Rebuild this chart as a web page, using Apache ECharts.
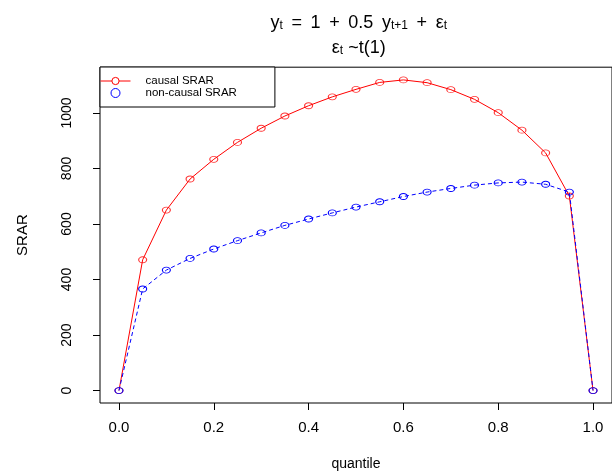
<!DOCTYPE html>
<html><head><meta charset="utf-8">
<script src="https://cdn.jsdelivr.net/npm/echarts@6/dist/echarts.min.js"></script>
<style>html,body{margin:0;padding:0;background:#fff}#c{width:612px;height:476px}</style>
</head><body><div id="c"></div>
<script>
const quantiles = [0, 0.05, 0.1, 0.15, 0.2, 0.25, 0.3, 0.35, 0.4, 0.45, 0.5, 0.55, 0.6, 0.65, 0.7, 0.75, 0.8, 0.85, 0.9, 0.95, 1.0];
const causalSRAR = [0, 471, 650, 762, 833, 894, 945, 989, 1026, 1058, 1085, 1110, 1119, 1109, 1084, 1049, 1001, 938, 856, 701, 0];
const noncausalSRAR = [0, 366, 434, 476, 510, 540, 568, 595, 618, 640, 661, 680, 699, 715, 728, 740, 748, 751, 743, 715, 0];
const xTicks = [0, 0.2, 0.4, 0.6, 0.8, 1.0];
const yTicks = [0, 200, 400, 600, 800, 1000];
const seriesNames = ['causal SRAR', 'non-causal SRAR'];

const FONT = "'Liberation Sans', Arial, sans-serif";
const causalData = quantiles.map((q, i) => [q, causalSRAR[i]]);
const noncausalData = quantiles.map((q, i) => [q, noncausalSRAR[i]]);

const chart = echarts.init(document.getElementById('c'), null, {renderer: 'canvas'});
const plotLeft = 100, plotWidth = 517.5;
const sp = ' \u2009';
const richTitle = {
  m: {fontFamily: FONT, fontSize: 18, lineHeight: 18, padding: [0, 0, 4, 0], verticalAlign: 'top', fill: '#000', color: '#000'},
  s: {fontFamily: FONT, fontSize: 12, lineHeight: 12, verticalAlign: 'bottom', fill: '#000', color: '#000'}
};
chart.setOption({
  animation: false,
  backgroundColor: '#fff',
  grid: {left: plotLeft, top: 67.2, width: plotWidth, height: 336.3, show: true, borderColor: '#000', borderWidth: 1, backgroundColor: 'transparent'},
  xAxis: {
    type: 'value', min: -0.04, max: 1.04,
    name: 'quantile', nameLocation: 'middle', nameGap: 54,
    nameTextStyle: {fontFamily: FONT, fontSize: 14, color: '#000'},
    axisLine: {show: false, onZero: false},
    axisTick: {show: true, length: 7, customValues: xTicks, lineStyle: {color: '#000'}},
    axisLabel: {customValues: xTicks, formatter: v => v.toFixed(1), fontFamily: FONT, fontSize: 15, color: '#000', margin: 17},
    splitLine: {show: false}
  },
  yAxis: {
    type: 'value', min: -44.8, max: 1164.8,
    name: 'SRAR', nameLocation: 'middle', nameGap: 70, nameRotate: 90,
    nameTextStyle: {fontFamily: FONT, fontSize: 15, color: '#000'},
    axisLine: {show: false, onZero: false},
    axisTick: {show: true, length: 7, customValues: yTicks, lineStyle: {color: '#000'}},
    axisLabel: {customValues: yTicks, formatter: v => String(v), rotate: 90, fontFamily: FONT, fontSize: 14, color: '#000', margin: 26},
    splitLine: {show: false}
  },
  legend: {
    orient: 'vertical', left: 100, top: 67,
    data: [{name: seriesNames[0]}, {name: seriesNames[1], icon: 'circle'}],
    itemWidth: 30, itemHeight: 9, itemGap: 0,
    padding: [8, 38, 8, 0],
    borderColor: '#000', borderWidth: 1, backgroundColor: '#fff',
    lineStyle: {width: 1},
    itemStyle: {borderWidth: 1},
    textStyle: {fontFamily: FONT, fontSize: 11.5, color: '#000', lineHeight: 11, padding: [0, 0, 0, 10]},
    selectedMode: false, z: 10
  },
  graphic: [
    {type: 'text', x: plotLeft + plotWidth / 2, y: 14, style: {
      text: '{m|y}{s|t}{m|' + sp + '=' + sp + '1' + sp + '+' + sp + '0.5' + sp + 'y}{s|t+1}{m|' + sp + '+' + sp + 'ε}{s|t}',
      align: 'center', verticalAlign: 'top', rich: richTitle
    }},
    {type: 'text', x: plotLeft + plotWidth / 2, y: 39, style: {
      text: '{m|ε}{s|t}{m| ~t(1)}', align: 'center', verticalAlign: 'top', rich: richTitle
    }}
  ],
  series: [
    {name: seriesNames[0], type: 'line', data: causalData, symbol: 'circle', showSymbol: false,
     symbolSize: [8, 6], lineStyle: {color: '#ff0000', width: 1},
     itemStyle: {color: '#ffffff', borderColor: '#ff0000', borderWidth: 1}},
    {type: 'scatter', data: causalData, symbol: 'circle', symbolSize: [14, 11],
     itemStyle: {color: '#fff'}, silent: true},
    {type: 'scatter', data: causalData, symbol: 'circle', symbolSize: [8, 6],
     itemStyle: {color: 'rgba(0,0,0,0)', borderColor: '#ff0000', borderWidth: 1}, silent: true},
    {name: seriesNames[1], type: 'line', data: noncausalData, symbol: 'circle', symbolSize: [8, 6], showSymbol: true,
     lineStyle: {color: '#0000ff', width: 1, type: [4, 3]},
     itemStyle: {color: 'rgba(0,0,0,0)', borderColor: '#0000ff', borderWidth: 1}}
  ]
});
</script></body></html>
